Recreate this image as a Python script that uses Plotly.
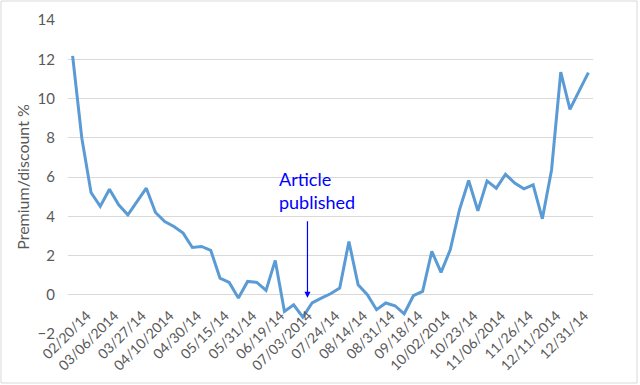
import plotly.graph_objects as go

# Data (57 observations, labels shown on every 3rd observation)
values = [12.17, 7.98, 5.21, 4.50, 5.38, 4.58, 4.07, 4.75, 5.43, 4.19,
          3.73, 3.48, 3.14, 2.41, 2.46, 2.26, 0.85, 0.63, -0.17, 0.68,
          0.63, 0.22, 1.75, -0.85, -0.51, -1.14, -0.42, -0.17, 0.05, 0.34,
          2.71, 0.51, 0.00, -0.76, -0.42, -0.56, -0.97, -0.05, 0.17, 2.21,
          1.14, 2.29, 4.33, 5.82, 4.28, 5.80, 5.43, 6.14, 5.69, 5.40,
          5.60, 3.87, 6.36, 11.34, 9.45, 10.39, 11.32]
tick_labels = ["02/20/14", "03/06/2014", "03/27/14", "04/10/2014", "04/30/14",
               "05/15/14", "05/31/14", "06/19/14", "07/03/2014", "07/24/14",
               "08/14/14", "08/31/14", "09/18/14", "10/02/2014", "10/23/14",
               "11/06/2014", "11/26/14", "12/11/2014", "12/31/14"]
label_step = 3
article_pos = 26.5
y_title = "Premium/discount %"

x = list(range(1, len(values) + 1))
LABEL_SHIFT = 0.45  # rotated-label anchor compensation (style)
tickvals = [label_step * (i + 1) - LABEL_SHIFT for i in range(len(tick_labels))]

FONT = "Lato, Calibri, Carlito, sans-serif"
GREY = "#595959"
GRID = "#D9D9D9"

fig = go.Figure()
fig.add_trace(go.Scatter(x=x, y=values, mode="lines",
                         line=dict(color="#5B9BD5", width=3),
                         hoverinfo="skip", showlegend=False))

fig.update_layout(
    width=640, height=385,
    margin=dict(l=68, r=47, t=20, b=51, autoexpand=False),
    paper_bgcolor="white", plot_bgcolor="white",
    font=dict(family=FONT, color=GREY, size=14),
    xaxis=dict(range=[0.5, len(values) + 0.5], tickvals=tickvals, ticktext=tick_labels,
               tickangle=-45, showgrid=False, zeroline=False, showline=False,
               anchor="free", position=2 / 16, ticks="", automargin=False,
               ticklabelstandoff=9,
               tickfont=dict(size=14, color=GREY, family=FONT)),
    yaxis=dict(range=[-2, 14], dtick=2, showgrid=True, gridcolor=GRID, gridwidth=1,
               zeroline=True, zerolinecolor=GRID, zerolinewidth=1, showline=False,
               ticks="", ticklabelstandoff=12, automargin=False,
               tickfont=dict(size=15, color=GREY, family=FONT),
               title=dict(text=y_title, standoff=3, font=dict(size=16, color=GREY, family=FONT))),
)

# Outer border of chart
fig.add_shape(type="rect", xref="paper", yref="paper",
              x0=-67 / 525, x1=569 / 525, y0=-49 / 314, y1=333 / 314,
              line=dict(color=GRID, width=1), fillcolor="rgba(0,0,0,0)", layer="below")

# Arrow
fig.add_annotation(x=article_pos, y=-0.15, xref="x", yref="y", text="",
                   showarrow=True, arrowhead=2, arrowsize=1, arrowwidth=1.2,
                   arrowcolor="#0000FF", ax=0, ay=-78)
fig.add_annotation(x=23.2, y=5.3, xref="x", yref="y",
                   text="Article<br>published", showarrow=False,
                   xanchor="left", yanchor="middle", align="left",
                   font=dict(size=18, color="#0000FF", family=FONT))

fig.write_html("out.html", config={"displayModeBar": False},
               post_script="document.body.style.margin='0';")
